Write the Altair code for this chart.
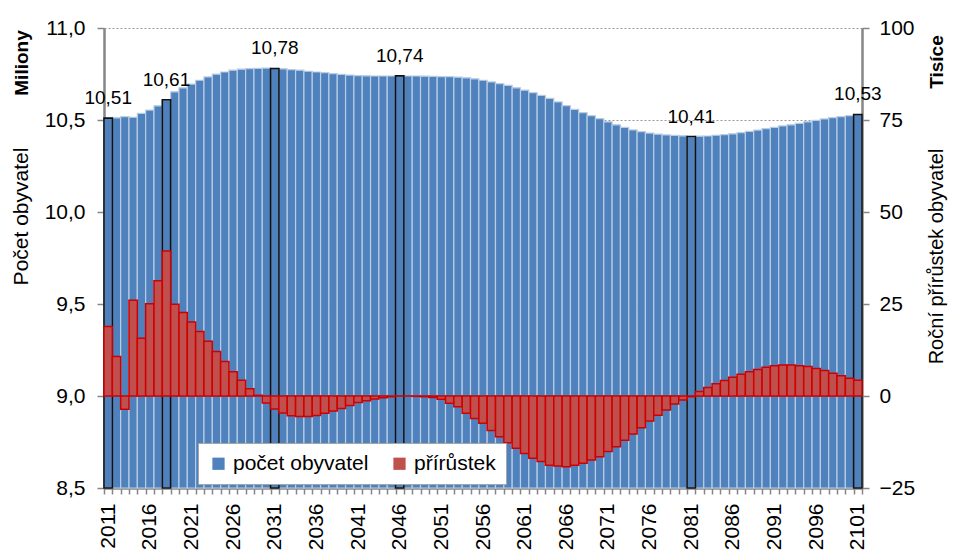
import altair as alt
import pandas as pd

years = list(range(2011, 2102))

# population in millions
population = [
    10.51, 10.512, 10.518, 10.515, 10.536, 10.554, 10.577, 10.61, 10.653, 10.675,
    10.695, 10.716, 10.734, 10.749, 10.761, 10.771, 10.776, 10.779, 10.781, 10.782,
    10.78, 10.778, 10.774, 10.771, 10.765, 10.761, 10.757, 10.752, 10.748, 10.744,
    10.741, 10.740, 10.739, 10.739, 10.739, 10.74, 10.739, 10.739, 10.738, 10.737,
    10.736, 10.735, 10.733, 10.729, 10.724, 10.716, 10.707, 10.698, 10.688, 10.675,
    10.662, 10.648, 10.634, 10.617, 10.598, 10.578, 10.558, 10.540, 10.523, 10.507,
    10.490, 10.474, 10.460, 10.446, 10.437, 10.429, 10.423, 10.419, 10.416, 10.414,
    10.41, 10.412, 10.413, 10.417, 10.421, 10.425, 10.431, 10.438, 10.445, 10.453,
    10.460, 10.468, 10.474, 10.482, 10.490, 10.498, 10.506, 10.513, 10.518, 10.523,
    10.53,
]

# annual increase in thousands
increment = [
    18.9, 10.7, -3.6, 26.0, 15.7, 25.1, 31.3, 39.4, 24.9, 22.7,
    20.1, 17.5, 14.9, 12.1, 9.4, 6.6, 4.3, 2.0, 0.2, -1.9,
    -3.5, -4.6, -5.4, -5.6, -5.6, -5.3, -4.7, -4.1, -3.4, -2.6,
    -1.8, -1.3, -0.8, -0.45, -0.2, 0.0, 0.0, -0.1, -0.2, -0.4,
    -0.9, -2.0, -2.9, -4.7, -6.1, -7.4, -9.4, -11.1, -12.7, -14.2,
    -15.6, -16.9, -17.8, -18.8, -19.0, -19.2, -18.8, -18.3, -17.4, -16.5,
    -15.1, -13.8, -12.0, -10.3, -8.6, -6.8, -5.2, -3.8, -2.2, -1.1,
    -0.2, 1.2, 2.3, 3.3, 4.2, 5.1, 5.9, 6.6, 7.2, 7.8,
    8.2, 8.4, 8.4, 8.2, 8.0, 7.5, 6.9, 6.2, 5.5, 4.8,
    4.3,
]

highlight_years = [2011, 2018, 2031, 2046, 2081, 2101]
series_names = ["počet obyvatel", "přírůstek"]
series_colors = ["#4F81BD", "#C0504D"]
left_ticks = [8.5, 9.0, 9.5, 10.0, 10.5, 11.0]
right_ticks = [-25, 0, 25, 50, 75, 100]
left_title = "Počet obyvatel"
left_unit = "Miliony"
right_title = "Roční přírůstek obyvatel"
right_unit = "Tisíce"

df = pd.DataFrame({"rok": years, "pop": population, "inc": increment})
df["hl"] = df["rok"].isin(highlight_years)
df["base"] = left_ticks[0]

df_pop = df.assign(s=series_names[0])
df_inc = df.assign(s=series_names[1])

FONT = "Liberation Sans"
GRAY = "#868686"

color_scale = alt.Scale(domain=series_names, range=series_colors)
legend = alt.Legend(
    title=None,
    orient="none",
    legendX=94,
    legendY=415,
    direction="horizontal",
    fillColor="white",
    strokeColor="#a6a6a6",
    padding=10,
    symbolType="square",
    symbolSize=150,
    symbolStrokeWidth=0,
    labelFontSize=21,
    labelColor="black",
    labelOffset=4,
    columnPadding=20,
    labelLimit=300,
)

x_enc = alt.X(
    "rok:O",
    scale=alt.Scale(paddingInner=0, paddingOuter=0),
    axis=alt.Axis(
        title=None,
        labelAngle=270,
        labelExpr="(datum.value - 2011) % 5 == 0 ? datum.label : ''",
        labelOverlap=False,
        tickBand="extent",
        tickSize=6,
        tickColor=GRAY,
        tickWidth=1.5,
        domainColor=GRAY,
        domainWidth=2.5,
        labelFontSize=21,
        labelColor="black",
        labelPadding=9,
    ),
)

left_scale = alt.Scale(domain=[left_ticks[0], left_ticks[-1]], zero=False, nice=False)
right_scale = alt.Scale(domain=[right_ticks[0], right_ticks[-1]], nice=False)

blue = alt.Chart(df_pop).mark_bar(strokeWidth=1.2, stroke="#b9cde5").encode(
    x=x_enc,
    y=alt.Y(
        "pop:Q",
        scale=left_scale,
        axis=alt.Axis(
            orient="left",
            values=left_ticks,
            labelExpr="replace(format(datum.value, '.1f'), '.', ',')",
            title=left_title,
            titleAngle=270,
            titleX=-83,
            titleY=188,
            titleAlign="center",
            titleBaseline="middle",
            titleFontSize=21,
            titleFontWeight="normal",
            titleColor="black",
            labelFontSize=21,
            labelColor="black",
            labelPadding=12,
            tickSize=7,
            tickColor=GRAY,
            tickWidth=1.5,
            domainColor=GRAY,
            domainWidth=2.5,
            grid=True,
            gridColor="#999999",
            gridDash=[2, 2],
            gridWidth=1,
        ),
    ),
    y2="base:Q",
    color=alt.Color("s:N", scale=color_scale, legend=legend),
)

outline = alt.Chart(df).transform_filter("datum.hl").mark_bar(
    fillOpacity=0, stroke="#111111", strokeWidth=1.6
).encode(
    x=x_enc,
    y=alt.Y("pop:Q", scale=left_scale, axis=None),
    y2="base:Q",
)

red = alt.Chart(df_inc).mark_bar(stroke="#D00000", strokeWidth=1.5).encode(
    x=x_enc,
    y=alt.Y(
        "inc:Q",
        scale=right_scale,
        axis=alt.Axis(
            orient="right",
            values=right_ticks,
            title=right_title,
            titleAngle=270,
            titleX=74,
            titleY=228,
            titleAlign="center",
            titleBaseline="middle",
            titleFontSize=20,
            titleFontWeight="normal",
            titleColor="black",
            labelFontSize=21,
            labelColor="black",
            labelPadding=10,
            tickSize=7,
            tickColor=GRAY,
            tickWidth=1.5,
            domainColor=GRAY,
            domainWidth=2.5,
            grid=False,
        ),
    ),
    color=alt.Color("s:N", scale=color_scale, legend=legend),
)

labels = alt.Chart(df).transform_filter("datum.hl").transform_calculate(
    lbl="replace(format(datum.pop, '.2f'), '.', ',')"
).mark_text(fontSize=19, baseline="alphabetic", align="center", dy=-14, color="black").encode(
    x=x_enc,
    y=alt.Y("pop:Q", scale=left_scale, axis=None),
    text="lbl:N",
)

units_df = pd.DataFrame({"t": [left_unit, right_unit]})
unit_left = alt.Chart(units_df).transform_filter(f"datum.t == '{left_unit}'").mark_text(
    fontSize=19, fontWeight="bold", angle=270, align="center", baseline="middle", color="black"
).encode(text="t:N", x=alt.value(-82), y=alt.value(35))
unit_right = alt.Chart(units_df).transform_filter(f"datum.t == '{right_unit}'").mark_text(
    fontSize=19, fontWeight="bold", angle=270, align="center", baseline="middle", color="black"
).encode(text="t:N", x=alt.value(833), y=alt.value(34))

chart = alt.layer(blue, outline, red, labels, unit_left, unit_right).resolve_scale(
    y="independent"
).properties(
    width=758,
    height=460,
    autosize=alt.AutoSizeParams(type="none"),
    padding={"left": 96, "top": 20, "right": 86, "bottom": 66},
).configure(
    font=FONT,
).configure_view(
    stroke=None,
)

chart.save("out.html", embed_options={"renderer": "svg", "actions": False})
